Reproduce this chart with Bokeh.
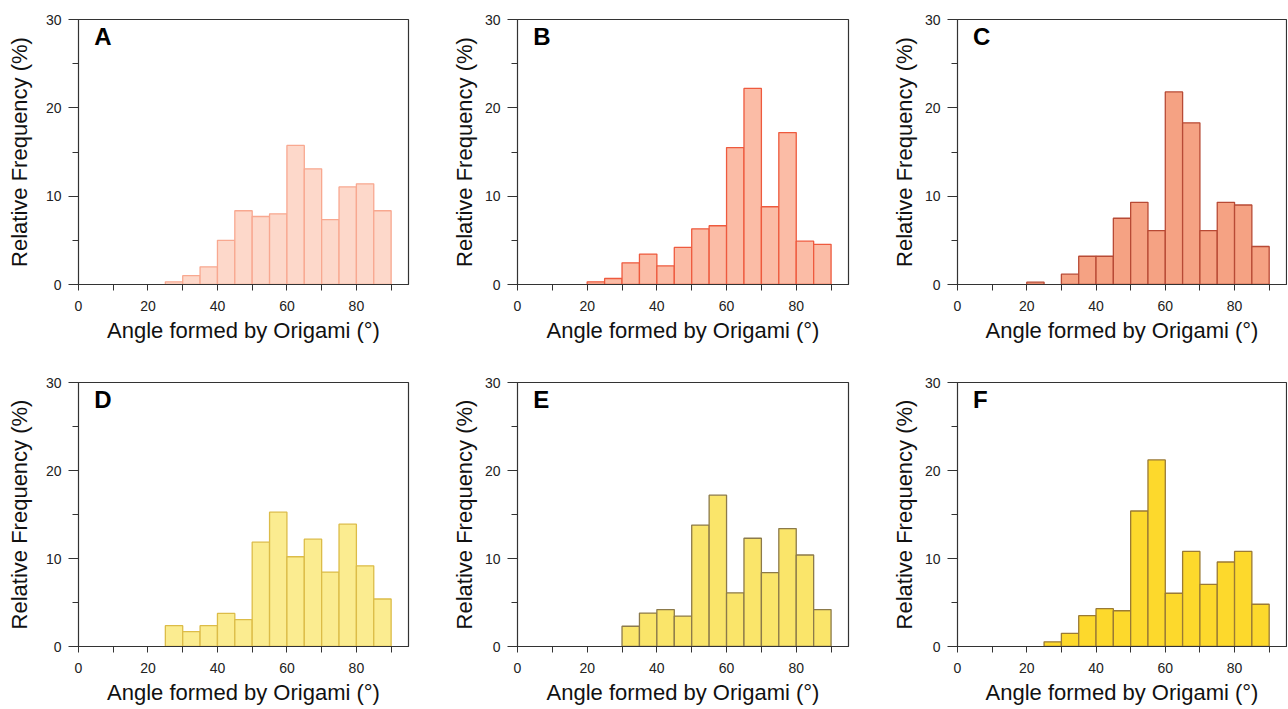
from bokeh.plotting import figure
from bokeh.layouts import column, row
from bokeh.models import Range1d, FixedTicker, Label
from bokeh.embed import file_html
from bokeh.resources import INLINE

# ---- data ----
bin_lefts = [0, 5, 10, 15, 20, 25, 30, 35, 40, 45, 50, 55, 60, 65, 70, 75, 80, 85]
bin_width = 5

freq_A = [0, 0, 0, 0, 0, 0.3, 1.0, 2.0, 5.0, 8.35, 7.7, 8.0, 15.75, 13.1, 7.35, 11.05, 11.4, 8.35]
freq_B = [0, 0, 0, 0, 0.3, 0.68, 2.45, 3.45, 2.1, 4.2, 6.3, 6.65, 15.5, 22.2, 8.8, 17.2, 4.9, 4.55]
freq_C = [0, 0, 0, 0, 0.26, 0, 1.17, 3.2, 3.2, 7.5, 9.3, 6.1, 21.8, 18.3, 6.1, 9.3, 9.0, 4.3]
freq_D = [0, 0, 0, 0, 0, 2.37, 1.7, 2.37, 3.76, 3.05, 11.85, 15.26, 10.2, 12.2, 8.46, 13.9, 9.17, 5.4]
freq_E = [0, 0, 0, 0, 0, 0, 2.3, 3.8, 4.2, 3.46, 13.8, 17.2, 6.1, 12.3, 8.4, 13.4, 10.4, 4.2]
freq_F = [0, 0, 0, 0, 0, 0.53, 1.5, 3.5, 4.3, 4.06, 15.4, 21.2, 6.05, 10.8, 7.07, 9.6, 10.8, 4.8]

panel_letters = ["A", "B", "C", "D", "E", "F"]
fill_colors = ["#fdd8ca", "#fbbca6", "#f5a283", "#fbec90", "#fae56a", "#fdd92c"]
line_colors = ["#f8a890", "#ee5a3e", "#b84a35", "#dcbc48", "#8c7a4a", "#9a7a35"]

x_ticks = [0, 20, 40, 60, 80]
x_minor = [10, 30, 50, 70, 90]
y_ticks = [0, 10, 20, 30]
y_minor = [5, 15, 25]

x_label = "Angle formed by Origami (°)"
y_label = "Relative Frequency (%)"

FONT = "Liberation Sans"
AX = "#333333"


def make_panel(freq, letter, fill, line, width, height, bl, br, bt, bb, ylab_standoff):
    p = figure(width=width, height=height, x_range=Range1d(0, 95), y_range=Range1d(0, 30),
               output_backend="svg", toolbar_location=None,
               min_border_left=bl, min_border_right=br, min_border_top=bt, min_border_bottom=bb)
    p.xgrid.visible = False
    p.ygrid.visible = False
    p.outline_line_color = AX
    p.outline_line_width = 1.2
    p.background_fill_color = "white"
    p.border_fill_color = "white"

    lefts = [l for l, v in zip(bin_lefts, freq) if v > 0]
    rights = [l + bin_width for l, v in zip(bin_lefts, freq) if v > 0]
    tops = [v for v in freq if v > 0]
    p.quad(left=lefts, right=rights, top=tops, bottom=0,
           fill_color=fill, line_color=line, line_width=1.3)

    xa = p.xaxis[0]
    xa.ticker = FixedTicker(ticks=x_ticks, minor_ticks=x_minor)
    xa.axis_label = x_label
    xa.axis_label_text_font = FONT
    xa.axis_label_text_font_size = "22px"
    xa.axis_label_text_font_style = "normal"
    xa.axis_label_text_color = "#111111"
    xa.axis_label_standoff = 4
    xa.major_label_text_font = FONT
    xa.major_label_text_font_size = "14px"
    xa.major_label_text_color = "#222222"
    xa.major_label_standoff = 10
    xa.major_tick_in = 0
    xa.major_tick_out = 6
    xa.minor_tick_in = 0
    xa.minor_tick_out = 6
    xa.axis_line_color = AX
    xa.major_tick_line_color = AX
    xa.minor_tick_line_color = AX

    ya = p.yaxis[0]
    ya.ticker = FixedTicker(ticks=y_ticks, minor_ticks=y_minor)
    ya.axis_label = y_label
    ya.axis_label_text_font = FONT
    ya.axis_label_text_font_size = "22px"
    ya.axis_label_text_font_style = "normal"
    ya.axis_label_text_color = "#111111"
    ya.axis_label_standoff = ylab_standoff
    ya.major_label_text_font = FONT
    ya.major_label_text_font_size = "14px"
    ya.major_label_text_color = "#222222"
    ya.major_label_standoff = 7
    ya.major_tick_in = 0
    ya.major_tick_out = 10
    ya.minor_tick_in = 0
    ya.minor_tick_out = 6
    ya.axis_line_color = AX
    ya.major_tick_line_color = AX
    ya.minor_tick_line_color = AX

    p.add_layout(Label(x=4.5, y=29.55, text=letter, text_font=FONT, text_font_size="24px",
                       text_font_style="bold", text_color="black", text_baseline="top",
                       text_align="left"))
    return p


row1_h = 371
row2_h = 336
specs = [
    (447, row1_h, 78, 39, 19, 87, 11),
    (439, row1_h, 70, 38, 19, 87, 5),
    (401, row1_h, 71, 1, 19, 87, 5),
    (447, row2_h, 78, 39, 11, 60, 11),
    (439, row2_h, 70, 38, 11, 60, 5),
    (401, row2_h, 71, 1, 11, 60, 5),
]
freqs = [freq_A, freq_B, freq_C, freq_D, freq_E, freq_F]
panels = []
for i in range(6):
    w, h, bl, br, bt, bb, ys = specs[i]
    panels.append(make_panel(freqs[i], panel_letters[i], fill_colors[i], line_colors[i],
                             w, h, bl, br, bt, bb, ys))

layout = column(row(*panels[:3], spacing=0), row(*panels[3:], spacing=0), spacing=0)

open("out.html", "w").write(file_html(layout, INLINE))
